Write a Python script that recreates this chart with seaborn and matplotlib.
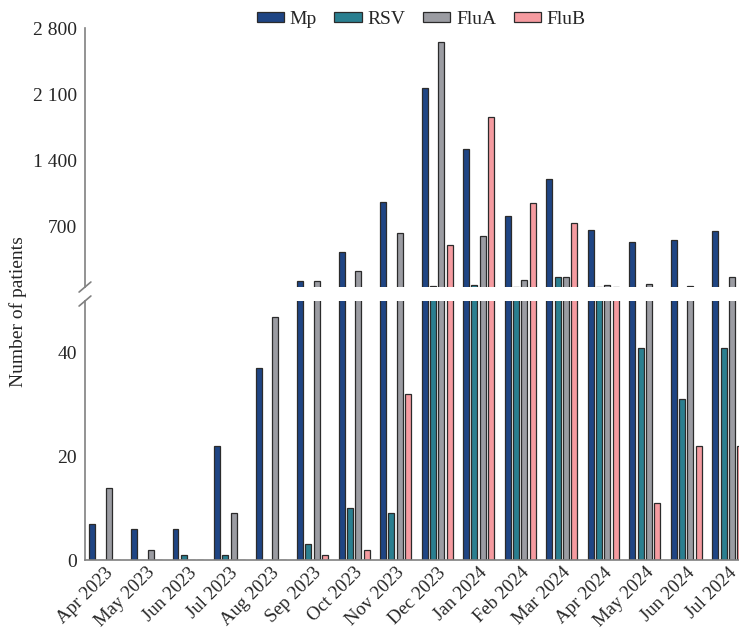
import pandas as pd
import numpy as np

import matplotlib
matplotlib.use("Agg")
import matplotlib.pyplot as plt
from matplotlib.ticker import FuncFormatter, FixedLocator
import seaborn as sns

# Monthly counts
months = ["Apr 2023", "May 2023", "Jun 2023", "Jul 2023", "Aug 2023", "Sep 2023",
          "Oct 2023", "Nov 2023", "Dec 2023", "Jan 2024", "Feb 2024", "Mar 2024",
          "Apr 2024", "May 2024", "Jun 2024", "Jul 2024"]
mp = [7, 6, 6, 22, 37, 117, 424, 954, 2163, 1516, 806, 1198, 657, 530, 551, 647]
rsv = [0, 0, 1, 1, 0, 3, 10, 9, 64, 74, 52, 159, 55, 41, 31, 41]
flua = [14, 2, 0, 9, 47, 117, 223, 625, 2650, 594, 127, 159, 74, 85, 64, 159]
flub = [0, 0, 0, 0, 0, 1, 2, 32, 498, 1855, 943, 731, 52, 11, 22, 22]

pathogens = ["Mp", "RSV", "FluA", "FluB"]
colors = ["#1f4584", "#2a7f90", "#9b9ca2", "#f59ba0"]

df = pd.DataFrame({"month": months, "Mp": mp, "RSV": rsv, "FluA": flua, "FluB": flub})
long = df.melt(id_vars="month", var_name="pathogen", value_name="count")

sns.set_style("white")
plt.rcParams["font.family"] = ["Liberation Serif", "DejaVu Serif"]
plt.rcParams["font.size"] = 14

fig = plt.figure(figsize=(7.39, 6.3), dpi=100)
ax_top = fig.add_axes([0.115, 0.5444, 0.885, 0.411])
ax_bot = fig.add_axes([0.115, 0.1111, 0.885, 0.411])

for ax in (ax_top, ax_bot):
    sns.barplot(data=long, x="month", y="count", hue="pathogen", order=months,
                hue_order=pathogens, palette=colors, saturation=1, width=0.8, gap=0.28,
                edgecolor="#2b2b2b", linewidth=0.9, errorbar=None, ax=ax)
    ax.set_xlim(-0.48, 15.27)
    ax.set_xlabel("")
    ax.set_ylabel("")
    ax.legend_.remove()
    for side in ["top", "right"]:
        ax.spines[side].set_visible(False)
    ax.spines["left"].set_color("#808080")
    ax.spines["left"].set_linewidth(1.2)
    ax.tick_params(axis="y", direction="out", length=4, width=1, color="#808080",
                   labelsize=14, pad=2)

# upper part of the broken axis
ax_top.set_ylim(53, 2800)
ax_top.yaxis.set_major_locator(FixedLocator([700, 1400, 2100, 2800]))
ax_top.yaxis.set_major_formatter(FuncFormatter(lambda v, p: f"{int(v):,}".replace(",", " ")))
ax_top.spines["bottom"].set_visible(False)
ax_top.set_xticks([])

# lower part
ax_bot.set_ylim(0, 50)
ax_bot.set_yticks([0, 20, 40])
ax_bot.spines["bottom"].set_color("#808080")
ax_bot.spines["bottom"].set_linewidth(1.2)
ax_bot.tick_params(axis="x", direction="out", length=2, color="#808080", labelsize=13.5, pad=1)
plt.setp(ax_bot.get_xticklabels(), rotation=45, ha="right", rotation_mode="anchor")

# break marks on the y axis
x0 = 0.115
for yb in (0.5444, 0.5222):
    fig.add_artist(plt.Line2D([x0 - 0.008, x0 + 0.008], [yb - 0.008, yb + 0.008],
                              color="#808080", lw=1.2, transform=fig.transFigure))

fig.text(18 / 739, 1 - 312 / 630, "Number of patients", rotation=90,
         ha="center", va="center", fontsize=14)

handles, labels = ax_top.get_legend_handles_labels()
fig.legend(handles, labels, loc="upper center", bbox_to_anchor=(0.57, 1.01), ncol=4,
           frameon=False, fontsize=14, handlelength=1.4, handleheight=0.45,
           handletextpad=0.3, columnspacing=0.9)

fig.savefig("out.png", dpi=100)
